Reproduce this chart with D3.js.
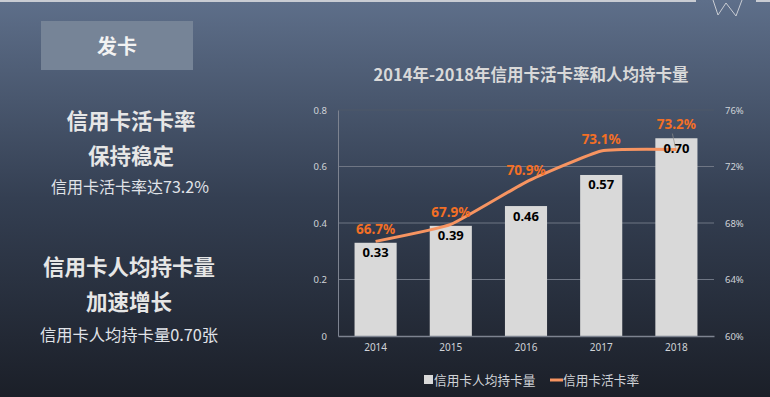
<!DOCTYPE html>
<html>
<head>
<meta charset="utf-8">
<script src="https://cdn.jsdelivr.net/npm/d3@7"></script>
<style>
  body { margin: 0; padding: 0; overflow: hidden; }
  svg { display: block; font-family: "Noto Sans CJK SC", "Noto Sans", sans-serif; }
</style>
</head>
<body>
<div id="chart"></div>
<script>
// Data.
var years = ["2014", "2015", "2016", "2017", "2018"];
var cardsPerPerson = [0.33, 0.39, 0.46, 0.57, 0.70];
var activeRate = [66.7, 67.9, 70.9, 73.1, 73.2];
var leftTicks = [0, 0.2, 0.4, 0.6, 0.8];
var rightTicks = [60, 64, 68, 72, 76];

var width = 770;
var height = 397;

var svg = d3.select("#chart")
  .append("svg")
  .attr("width", width)
  .attr("height", height);

// Background gradient.
var defs = svg.append("defs");
var grad = defs.append("linearGradient")
  .attr("id", "bg")
  .attr("x1", 0).attr("y1", 0).attr("x2", 0).attr("y2", 1);
grad.append("stop").attr("offset", "0%").attr("stop-color", "#5e6f8a");
grad.append("stop").attr("offset", "50%").attr("stop-color", "#343f52");
grad.append("stop").attr("offset", "100%").attr("stop-color", "#1b1f28");

svg.append("rect")
  .attr("width", width)
  .attr("height", height)
  .attr("fill", "url(#bg)");

// Top border and the little logo mark.
svg.append("rect").attr("x", 0).attr("y", 0).attr("width", 696).attr("height", 2).attr("fill", "#c9ccd3");
svg.append("rect").attr("x", 756).attr("y", 0).attr("width", 14).attr("height", 2).attr("fill", "#c9ccd3");
svg.append("polyline")
  .attr("points", "713,0 718,15 726,3 736,16 742,0")
  .attr("fill", "none")
  .attr("stroke", "#c9ccd3")
  .attr("stroke-width", 1);

// Section box.
svg.append("rect")
  .attr("x", 41).attr("y", 21)
  .attr("width", 152).attr("height", 49)
  .attr("fill", "#768497");
svg.append("text")
  .attr("x", 117).attr("y", 54)
  .attr("text-anchor", "middle")
  .attr("font-size", 20)
  .attr("font-weight", "bold")
  .attr("fill", "#f2f2f2")
  .text("发卡");

// Left side notes.
var notes = [
  { text: "信用卡活卡率", y: 129, size: 21.5, bold: true, x: 131 },
  { text: "保持稳定", y: 164, size: 21.5, bold: true, x: 131 },
  { text: "信用卡活卡率达73.2%", y: 193, size: 16, bold: false, x: 130 },
  { text: "信用卡人均持卡量", y: 275, size: 21.5, bold: true, x: 129 },
  { text: "加速增长", y: 310, size: 21.5, bold: true, x: 129 },
  { text: "信用卡人均持卡量0.70张", y: 341, size: 16.3, bold: false, x: 129 }
];
svg.selectAll(".note")
  .data(notes)
  .enter()
  .append("text")
  .attr("class", "note")
  .attr("x", function(d) { return d.x; })
  .attr("y", function(d) { return d.y; })
  .attr("text-anchor", "middle")
  .attr("font-size", function(d) { return d.size; })
  .attr("font-weight", function(d) { return d.bold ? "bold" : "normal"; })
  .attr("fill", function(d) { return d.bold ? "#e6e6e6" : "#e0e3e8"; })
  .text(function(d) { return d.text; });

// Chart title.
svg.append("text")
  .attr("x", 531).attr("y", 81)
  .attr("text-anchor", "middle")
  .attr("font-size", 16.5)
  .attr("font-weight", "bold")
  .attr("fill", "#d9d9d9")
  .text("2014年-2018年信用卡活卡率和人均持卡量");

// Plot area.
var plotLeft = 338, plotRight = 714, plotTop = 110, plotBottom = 336;

var x = d3.scaleBand()
  .domain(years)
  .range([plotLeft, plotRight])
  .paddingInner(0.44)
  .paddingOuter(0.22);

var y = d3.scaleLinear().domain([0, 0.8]).range([plotBottom, plotTop]);
var y2 = d3.scaleLinear().domain([60, 76]).range([plotBottom, plotTop]);

// Grid lines.
svg.selectAll(".grid")
  .data(leftTicks.slice(1))
  .enter()
  .append("line")
  .attr("x1", plotLeft).attr("x2", plotRight)
  .attr("y1", function(d) { return y(d); })
  .attr("y2", function(d) { return y(d); })
  .attr("stroke", function(d) { return d === 0.8 ? "#4f5869" : "#6f7684"; })
  .attr("stroke-width", 1);

// Left axis.
var yAxis = svg.append("g")
  .attr("transform", "translate(" + plotLeft + ",0)")
  .call(d3.axisLeft(y).tickValues(leftTicks).tickSize(0).tickPadding(11)
    .tickFormat(function(d) { return d === 0 ? "0" : d3.format(".1f")(d); }));
yAxis.select(".domain").attr("stroke", "#7d8390");
yAxis.selectAll("text").attr("fill", "#d0d3d8").attr("font-size", 9.5)
  .attr("font-family", "'Noto Sans', sans-serif");

// Right axis.
var y2Axis = svg.append("g")
  .attr("transform", "translate(" + plotRight + ",0)")
  .call(d3.axisRight(y2).tickValues(rightTicks).tickSize(0).tickPadding(11)
    .tickFormat(function(d) { return d + "%"; }));
y2Axis.select(".domain").remove();
y2Axis.selectAll("text").attr("fill", "#d0d3d8").attr("font-size", 9.5)
  .attr("font-family", "'Noto Sans', sans-serif");

// Bars.
svg.selectAll(".bar")
  .data(cardsPerPerson)
  .enter()
  .append("rect")
  .attr("class", "bar")
  .attr("x", function(d, i) { return x(years[i]); })
  .attr("y", function(d) { return y(d); })
  .attr("width", x.bandwidth())
  .attr("height", function(d) { return plotBottom - y(d); })
  .attr("fill", "#d9d9d9");

// Bottom axis.
var xAxis = svg.append("g")
  .attr("transform", "translate(0," + plotBottom + ")")
  .call(d3.axisBottom(x).tickSize(0).tickPadding(8));
xAxis.select(".domain").attr("stroke", "#7d8390").attr("stroke-width", 1.5);
xAxis.selectAll("text").attr("fill", "#d0d3d8").attr("font-size", 10)
  .attr("font-family", "'Noto Sans', sans-serif");

// Rate line.
var cx = function(i) { return x(years[i]) + x.bandwidth() / 2; };
var line = d3.line()
  .x(function(d, i) { return cx(i); })
  .y(function(d) { return y2(d); })
  .curve(d3.curveCardinal.tension(0.6));

svg.append("path")
  .datum(activeRate)
  .attr("d", line)
  .attr("fill", "none")
  .attr("stroke", "#f79461")
  .attr("stroke-width", 3);

// Bar value labels.
svg.selectAll(".barlabel")
  .data(cardsPerPerson)
  .enter()
  .append("text")
  .attr("x", function(d, i) { return x(years[i]) + x.bandwidth() / 2; })
  .attr("y", function(d) { return y(d) + 14.5; })
  .attr("text-anchor", "middle")
  .attr("font-size", 13)
  .attr("font-weight", "bold")
  .attr("fill", "#000")
  .attr("font-family", "'Noto Sans', sans-serif")
  .text(function(d) { return d3.format(".2f")(d); });

// Leader line for last label.
var last = activeRate.length - 1;
svg.append("line")
  .attr("x1", cx(last) - 4).attr("y1", y2(activeRate[last]) - 16)
  .attr("x2", cx(last) - 1).attr("y2", y2(activeRate[last]) - 2)
  .attr("stroke", "#8c8c8c")
  .attr("stroke-width", 0.7);

// Rate labels.
svg.selectAll(".ratelabel")
  .data(activeRate)
  .enter()
  .append("text")
  .attr("x", function(d, i) { return cx(i); })
  .attr("y", function(d, i) { return y2(d) - (i === last ? 20.5 : 7); })
  .attr("text-anchor", "middle")
  .attr("font-size", 13.5)
  .attr("font-weight", "bold")
  .attr("fill", "#f36f25")
  .attr("font-family", "'Noto Sans', sans-serif")
  .text(function(d) { return d3.format(".1f")(d) + "%"; });

// Legend.
var legend = svg.append("g").attr("transform", "translate(0,380)");
legend.append("rect")
  .attr("x", 424).attr("y", -5).attr("width", 9).attr("height", 9)
  .attr("fill", "#d9d9d9");
legend.append("text")
  .attr("x", 434).attr("y", 4.5)
  .attr("font-size", 12.7)
  .attr("fill", "#d0d3d8")
  .text("信用卡人均持卡量");
legend.append("line")
  .attr("x1", 550).attr("x2", 563)
  .attr("y1", 0).attr("y2", 0)
  .attr("stroke", "#f79461")
  .attr("stroke-width", 3);
legend.append("text")
  .attr("x", 563).attr("y", 4.5)
  .attr("font-size", 12.7)
  .attr("fill", "#d0d3d8")
  .text("信用卡活卡率");
</script>
</body>
</html>
